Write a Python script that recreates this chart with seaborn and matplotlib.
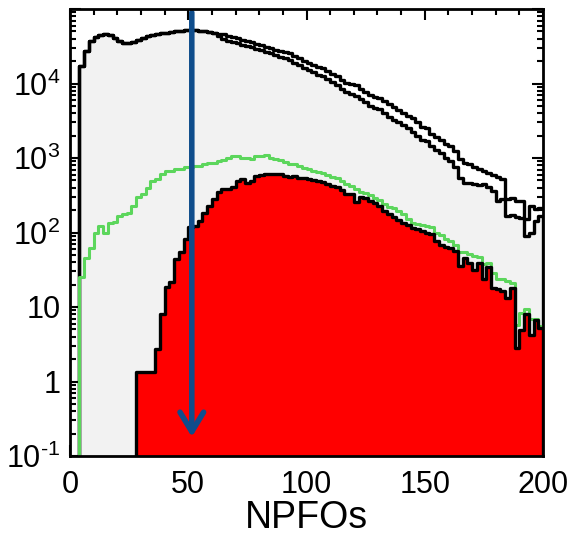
import numpy as np
import pandas as pd
import matplotlib
matplotlib.use("Agg")
import matplotlib.pyplot as plt
import seaborn as sns
from matplotlib.ticker import FixedLocator, FixedFormatter, LogLocator, MultipleLocator, NullFormatter

# ---------------- data (bin width 2, bins 0..198) ----------------
bin_edges = list(range(0, 202, 2))
bin_centers = [e + 1 for e in bin_edges[:-1]]

all_events = [0, 0, 17000, 27000, 36700, 41600, 44200, 45600, 44200, 40300,
              36700, 34800, 34500, 35600, 37900, 40300, 42900, 44200, 45600, 47000,
              47500, 48500, 50000, 50700, 51500, 51500, 51500, 50700, 50000, 49300,
              47700, 42900, 39100, 37300, 35600, 34500, 33000, 31500, 30500, 29100,
              27800, 26600, 25400, 23900, 22400, 21800, 20500, 18700, 17500, 16000,
              15000, 14100, 12900, 12500, 11400, 10400, 9480, 8370, 7630, 7180,
              6760, 6160, 5620, 4960, 4670, 4520, 4000, 3530, 3220, 3030,
              2760, 2520, 2230, 1970, 1740, 1690, 1450, 1280, 1170, 1000,
              912, 759, 540, 463, 463, 449, 435, 449, 409, 362,
              266, 283, 168, 173, 163, 157, 91, 99, 144, 168]

upper_events = [0, 0, 17000, 27000, 36700, 41600, 44200, 45600, 44200, 40300,
                36700, 34800, 34500, 35600, 37900, 40300, 42900, 44200, 45600, 47000,
                47500, 48500, 50000, 50700, 51500, 51500, 51500, 50700, 50000, 49300,
                47700, 46300, 45600, 43500, 41600, 40300, 38500, 36700, 35600, 34000,
                32500, 31000, 29600, 28200, 27000, 26200, 25400, 23200, 21800, 19900,
                18700, 17500, 16500, 16000, 14600, 13300, 12500, 11100, 10100, 9770,
                9480, 8370, 7630, 6960, 6550, 6350, 5790, 5280, 4810, 4390,
                4000, 3650, 3430, 3030, 2600, 2520, 2090, 1910, 1740, 1540,
                1450, 1240, 971, 858, 832, 759, 713, 670, 630, 593,
                557, 524, 283, 292, 266, 266, 153, 228, 208, 214]

green_events = [0, 0, 25, 46, 61, 100, 123, 100, 136, 139,
                168, 178, 185, 228, 295, 330, 400, 492, 524, 611,
                670, 670, 713, 713, 759, 759, 782, 782, 832, 865,
                865, 912, 940, 1000, 1060, 1060, 1010, 1000, 971, 1060,
                1060, 1100, 1000, 971, 940, 885, 832, 832, 782, 735,
                713, 670, 650, 630, 593, 557, 540, 492, 449, 422,
                385, 351, 340, 320, 292, 274, 242, 221, 214, 196,
                178, 153, 135, 131, 127, 123, 119, 99, 93, 82,
                78, 67, 54, 54, 52, 49, 47, 38, 39, 29,
                24, 24, 22, 21, 5.7, 8.4, 9.5, 7.0, 7.0, 5.5]

red_events = [0, 0, 0, 0, 0, 0, 0, 0, 0, 0,
              0, 0, 0, 0, 1.34, 1.34, 1.34, 1.34, 2.7, 8.1,
              18.4, 21.5, 44, 54, 82, 117, 123, 144, 185, 228,
              280, 345, 382, 385, 409, 492, 524, 463, 492, 574,
              593, 611, 615, 611, 611, 574, 557, 574, 540, 540,
              524, 508, 492, 478, 449, 422, 409, 373, 330, 330,
              258, 301, 292, 266, 250, 228, 196, 178, 163, 148,
              135, 127, 116, 112, 106, 99, 96, 78, 67, 63,
              61, 57, 36, 45, 39, 31, 39, 24, 34, 18,
              17.7, 16.6, 13.4, 18, 2.8, 4.9, 8.1, 4.2, 6.6, 5.3]

x_ticks = [0, 50, 100, 150, 200]
y_ticks = [0.1, 1, 10, 100, 1000, 10000, 100000]
y_tick_labels = ['$\\mathregular{10^{\u2010 1}}$', '1', '10', r'$\mathregular{10^{2}}$',
                 r'$\mathregular{10^{3}}$', r'$\mathregular{10^{4}}$', '']
cut_value = 51.5

df = pd.DataFrame({'NPFOs': bin_centers, 'all': all_events, 'upper': upper_events,
                   'green': green_events, 'red': red_events})

# ---------------- style ----------------
sns.set_theme(style="ticks")
plt.rcParams['font.family'] = ['Liberation Sans', 'DejaVu Sans']
plt.rcParams['mathtext.fontset'] = 'custom'
plt.rcParams['mathtext.rm'] = 'Liberation Sans'
plt.rcParams['mathtext.it'] = 'Liberation Sans:italic'
plt.rcParams['mathtext.bf'] = 'Liberation Sans:bold'

W, H = 574, 543
fig = plt.figure(figsize=(W / 100, H / 100), dpi=100)
fig.patch.set_facecolor('white')
ax = fig.add_axes([70 / W, 1 - 456 / H, (543 - 70) / W, (456 - 9) / H])
ax.set_facecolor('white')

line_w = 2.4

sns.histplot(data=df, x='NPFOs', weights='all', bins=bin_edges, element='step',
             fill=True, color='#f2f2f2', edgecolor='black', linewidth=line_w,
             alpha=1, ax=ax, zorder=1)
sns.histplot(data=df, x='NPFOs', weights='upper', bins=bin_edges, element='step',
             fill=False, color='black', linewidth=line_w, ax=ax, zorder=2)
sns.histplot(data=df, x='NPFOs', weights='green', bins=bin_edges, element='step',
             fill=False, color='#5cd65c', linewidth=2.2, ax=ax, zorder=3)
sns.histplot(data=df, x='NPFOs', weights='red', bins=bin_edges, element='step',
             fill=True, color='#ff0000', edgecolor='black', linewidth=line_w,
             alpha=1, ax=ax, zorder=4)

ax.set_yscale('log')
ax.set_xlim(0, 200)
ax.set_ylim(0.1, 1e5)

ax.annotate('', xy=(cut_value, 0.18), xytext=(cut_value, 9e4),
            arrowprops=dict(arrowstyle='->,head_length=1.4,head_width=0.85',
                            lw=4, color='#0f4d8c', shrinkA=0, shrinkB=0,
                            mutation_scale=10, capstyle='round', joinstyle='round'),
            annotation_clip=False, zorder=6)

ax.xaxis.set_major_locator(FixedLocator(x_ticks))
ax.xaxis.set_minor_locator(MultipleLocator(10))
ax.yaxis.set_major_locator(FixedLocator(y_ticks))
ax.yaxis.set_major_formatter(FixedFormatter(y_tick_labels))
ax.yaxis.set_minor_locator(LogLocator(base=10, subs=np.arange(2, 10)))
ax.yaxis.set_minor_formatter(NullFormatter())

ax.tick_params(which='both', direction='in', top=True, right=True,
               color='black', width=1.5, labelsize=22, labelcolor='black')
ax.tick_params(which='major', length=8, pad=7)
ax.tick_params(axis='x', which='major', pad=10)
ax.tick_params(which='minor', length=4)

for s in ax.spines.values():
    s.set_linewidth(2)
    s.set_color('black')
    s.set_zorder(10)

ax.set_ylabel('')
ax.set_xlabel('NPFOs', fontsize=27, color='black', labelpad=0)

fig.savefig('out.png', dpi=100)
